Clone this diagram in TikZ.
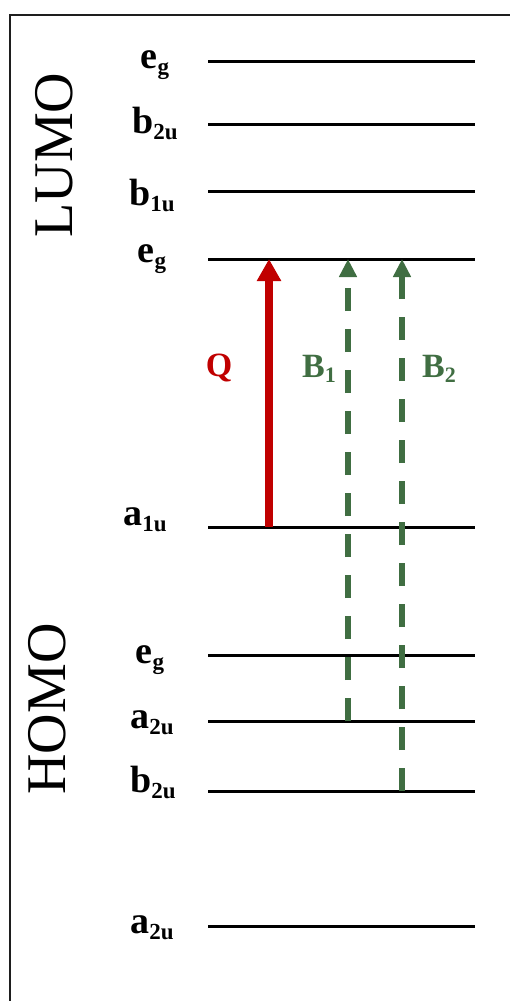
\documentclass[tikz,border=0pt]{standalone}
\usepackage{fontspec}
\setmainfont{Liberation Serif}
\usetikzlibrary{arrows.meta}
\definecolor{qred}{RGB}{192,0,0}
\definecolor{bgreen}{RGB}{64,110,66}
\definecolor{framegray}{RGB}{30,30,30}
\newcommand{\lvl}[2]{\textbf{#1}{\fontsize{23}{23}\selectfont\raisebox{-6pt}{\textbf{#2}}}}
\newcommand{\trl}[2]{\textbf{#1}{\fontsize{22}{22}\selectfont\raisebox{-5pt}{\textbf{#2}}}}
\begin{document}
\begin{tikzpicture}[x=1pt,y=-1pt,
  level/.style={line width=3pt,black},
  lbl/.style={anchor=base,inner sep=0pt,font=\fontsize{38}{38}\selectfont},
  side/.style={rotate=90,anchor=base,inner sep=0pt,font=\fontsize{56}{56}\selectfont},
  qarrow/.style={line width=8pt,qred,-{Triangle[width=23pt,length=22pt]}},
  barrow/.style={line width=5.5pt,bgreen,dash pattern=on 23pt off 18pt,-{Triangle[width=17pt,length=18pt]}},
  tlbl/.style={anchor=base,inner sep=0pt,font=\fontsize{34}{34}\selectfont}]
\useasboundingbox (0,0) rectangle (510,1001);
% frame
\draw[line width=2pt,framegray] (10,1010) -- (10,15) -- (520,15);
% levels
\foreach \n/\y in {L4/61,L3/124,L2/191,L1/259,H1/527,H2/655,H3/721,H4/791,H5/926}{
  \coordinate (\n a) at (208,\y);
  \coordinate (\n b) at (475,\y);
  \draw[level] (\n a) -- (\n b);
}
% level labels
\node[lbl] (tL4) at (155,68) {\lvl{e}{g}};
\node[lbl] (tL3) at (155,133) {\lvl{b}{2u}};
\node[lbl] (tL2) at (152,205) {\lvl{b}{1u}};
\node[lbl] (tL1) at (152,262) {\lvl{e}{g}};
\node[lbl] (tH1) at (145,525) {\lvl{a}{1u}};
\node[lbl] (tH2) at (150,663) {\lvl{e}{g}};
\node[lbl] (tH3) at (152,728) {\lvl{a}{2u}};
\node[lbl] (tH4) at (153,792) {\lvl{b}{2u}};
\node[lbl] (tH5) at (152,933) {\lvl{a}{2u}};
% side labels
\node[side] (lumo) at (72,155) {LUMO};
\node[side] (homo) at (65,709) {HOMO};
% transitions
\coordinate (q0) at (269,527);
\coordinate (q1) at (269,259);
\coordinate (b10) at (348,721);
\coordinate (b11) at (348,259);
\coordinate (b20) at (402,791);
\coordinate (b21) at (402,259);
\draw[qarrow] (q0) -- (q1);
\draw[barrow] (b10) -- (b11);
\draw[barrow] (b20) -- (b21);
\node[tlbl,text=qred] (Q) at (219,376) {\textbf{Q}};
\node[tlbl,text=bgreen] (B1) at (319,377) {\trl{B}{1}};
\node[tlbl,text=bgreen] (B2) at (439,377) {\trl{B}{2}};
\end{tikzpicture}
\end{document}
